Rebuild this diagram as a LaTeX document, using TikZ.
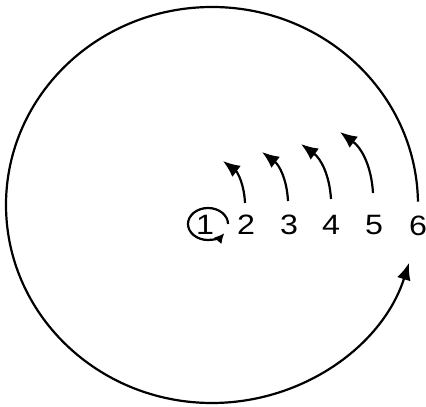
\documentclass[tikz,border=0pt]{standalone}
\usepackage{fontspec}
\setmainfont{Liberation Sans}
\usetikzlibrary{arrows.meta}
\begin{document}
\begin{tikzpicture}[x=1pt,y=1pt,
  num/.style={inner sep=0pt, xscale=1.15, font=\fontsize{28}{28}\selectfont},
  bigarrow/.style={line width=2.2pt, -{Latex[length=17pt,width=14pt]}},
  smallarrow/.style={line width=2.2pt, -{Latex[length=10pt,width=10pt]}}]
\useasboundingbox (0,0) rectangle (426,407);
% numbers
\node[num] (n1) at (205,182) {1};
\node[num] (n2) at (246,182) {2};
\node[num] (n3) at (289,182) {3};
\node[num] (n4) at (331,182) {4};
\node[num] (n5) at (374,182) {5};
\node[num] (n6) at (418,181) {6};
% arrow end points
\coordinate (t2) at (245,204); \coordinate (h2) at (223,246);
\coordinate (t3) at (288,206); \coordinate (h3) at (262,255);
\coordinate (t4) at (331,208); \coordinate (h4) at (301,263);
\coordinate (t5) at (373,214); \coordinate (h5) at (340,275);
\draw[bigarrow] (t2) to[bend right=25] (h2);
\draw[bigarrow] (t3) to[bend right=25] (h3);
\draw[bigarrow] (t4) to[bend right=25] (h4);
\draw[bigarrow] (t5) to[bend right=25] (h5);
% small loop round 1
\coordinate (c1) at (228,183);
\draw[smallarrow] (c1) arc[start angle=0, end angle=325, x radius=20, y radius=16];
% big loop from 6 back to 6
\coordinate (s6) at (417.97,205.46);
\draw[bigarrow] (s6) arc[start angle=1, end angle=343, x radius=206, y radius=198];
\end{tikzpicture}
\end{document}
